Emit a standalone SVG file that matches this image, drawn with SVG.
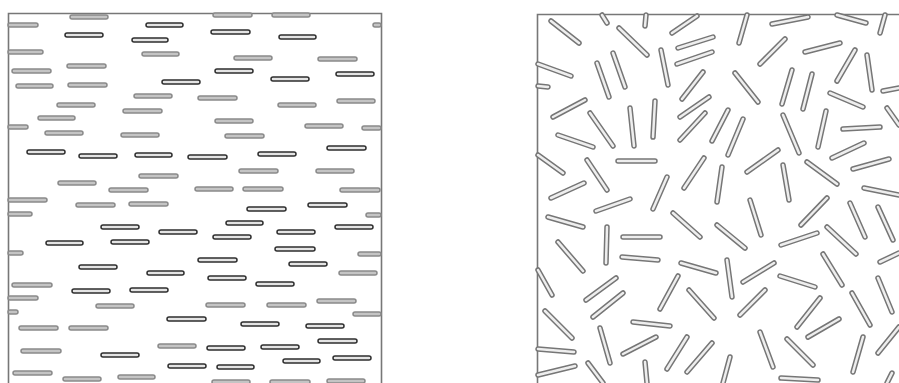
<svg xmlns="http://www.w3.org/2000/svg" xmlns:xlink="http://www.w3.org/1999/xlink" width="899" height="383" viewBox="0 0 899 383">
<style>
.bd{fill:none;stroke:#777777;stroke-width:1.6}
.go{fill:none;stroke:#8a8a8a;stroke-width:5.5;stroke-linecap:round}
.gi{fill:none;stroke:#c4c4c4;stroke-width:2.5;stroke-linecap:round}
.do{fill:none;stroke:#2e2e2e;stroke-width:5.5;stroke-linecap:round}
.di{fill:none;stroke:#e4e4e4;stroke-width:2.5;stroke-linecap:round}
.ro{fill:none;stroke:#767676;stroke-width:5.5;stroke-linecap:round}
.ri{fill:none;stroke:#eeeeee;stroke-width:2.5;stroke-linecap:round}
</style>
<defs>
<path id="g" d="M72 17H106M144 54H177M69 66H104M14 71H49M18 86H51M70 85H105M136 96H170M59 105H93M125 111H160M40 118H73M236 58H270M320 59H355M200 98H235M280 105H314M339 101H373M217 121H251M307 126H341M47 133H81M123 135H157M141 176H176M60 183H94M111 190H146M197 189H231M78 205H113M131 204H166M227 136H262M241 171H276M318 171H352M245 189H281M342 190H378M14 285H50M98 306H132M21 328H56M71 328H106M23 351H59M160 346H194M15 373H50M65 379H99M120 377H153M341 273H375M208 305H243M269 305H304M319 301H354M214 382H248M272 382H308M329 381H363M10 25H36M10 52H41M10 127H26M10 200H45M10 214H30M10 253H21M10 298H36M10 312H16M364 128H379M368 215H379M360 254H379M355 314H379M375 25H379M215 15H250M274 15H308"/>
<path id="d" d="M148 25H181M67 35H101M134 40H166M164 82H198M213 32H248M281 37H314M217 71H251M338 74H372M273 79H307M29 152H63M81 156H115M137 155H170M190 157H225M103 227H137M161 232H195M48 243H81M113 242H147M329 148H364M260 154H294M310 205H345M249 209H284M228 223H261M337 227H371M279 232H313M215 237H249M277 249H313M81 267H115M149 273H182M74 291H108M132 290H166M169 319H204M103 355H137M170 366H204M200 260H235M291 264H325M210 278H244M258 284H292M243 324H277M308 326H342M320 341H355M209 348H243M263 347H297M285 361H318M335 358H369M219 367H252"/>
<path id="r" d="M551 21L579 43M602 15L607 23M646 15L645 26M619 28L647 55M672 33L697 16M678 48L713 37M677 64L712 52M661 50L668 85M613 53L625 87M597 63L609 97M538 64L571 76M538 86L548 87M553 117L585 100M682 99L703 72M680 117L709 97M590 113L613 146M630 108L634 146M655 101L653 137M705 113L680 140M747 15L739 43M772 24L808 17M837 15L866 23M885 15L880 33M760 64L785 39M805 52L840 43M837 81L855 50M867 55L872 90M883 91L899 88M735 73L758 102M782 104L792 70M803 109L812 74M830 93L863 107M728 110L712 141M743 119L728 155M783 115L799 153M826 111L818 147M843 129L880 127M887 108L899 125M558 135L593 147M538 155L563 173M618 161L655 161M587 160L607 190M551 198L584 183M596 211L630 199M653 209L667 177M684 188L704 158M722 167L717 202M548 217L583 227M673 213L700 237M607 227L606 263M623 237L660 237M558 242L583 271M832 158L864 143M853 169L889 159M747 172L778 150M807 162L837 184M783 165L789 200M864 188L899 195M750 200L761 235M801 225L827 198M850 203L865 237M878 207L893 240M717 225L745 248M781 245L817 233M827 227L856 254M622 257L658 260M681 263L716 273M538 270L552 295M586 300L616 278M593 317L623 293M660 309L678 276M689 290L714 318M545 311L572 338M633 322L670 326M600 328L610 363M623 354L656 337M667 369L687 337M687 372L712 343M538 349L574 352M538 375L575 366M588 363L603 383M645 362L647 383M727 260L732 297M743 282L774 263M780 276L815 287M823 254L842 285M852 293L870 325M878 278L892 312M880 262L899 253M740 315L765 290M797 327L820 298M808 337L839 319M760 332L773 367M787 339L813 365M853 372L863 337M878 353L899 327M723 383L730 357M781 378L818 380M887 383L892 373"/>
</defs>
<rect width="899" height="383" fill="#ffffff"/>
<g id="left-box">
<path class="bd" d="M8.5 383V13.5H381.5V383"/>
<use xlink:href="#g" class="go"/>
<use xlink:href="#g" class="gi"/>
<use xlink:href="#d" class="do"/>
<use xlink:href="#d" class="di"/>
</g>
<g id="right-box">
<path class="bd" d="M537.5 383V14.5H899"/>
<use xlink:href="#r" class="ro"/>
<use xlink:href="#r" class="ri"/>
</g>
</svg>
